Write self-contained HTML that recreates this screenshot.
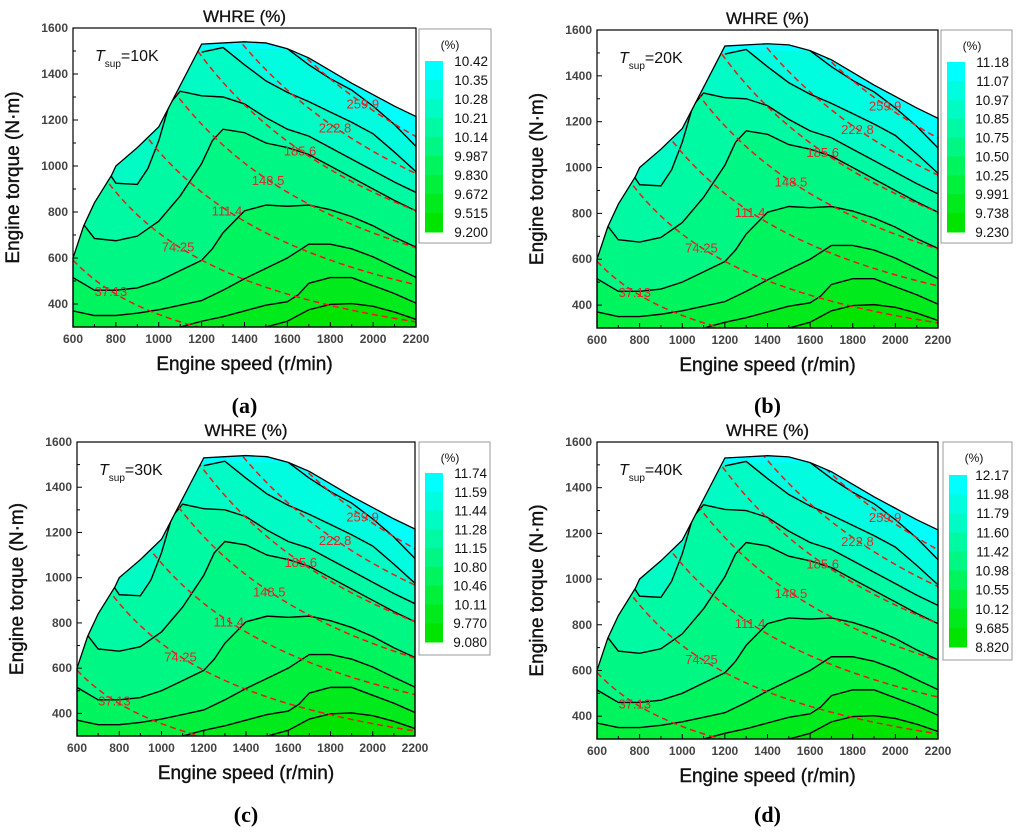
<!DOCTYPE html>
<html><head><meta charset="utf-8"><style>
body{margin:0;background:#fff;}
svg{display:block;font-family:"Liberation Sans",sans-serif;}
</style></head><body>
<svg id="fig" width="1024" height="837" viewBox="0 0 1024 837"></svg>
<script>
const powerLevels=[37.13,74.25,111.4,148.5,185.6,222.8,259.9];
const powerLabelRpm=[777,1090,1318,1510,1659,1822,1952];
const envRpm=[600,650,700,780,800,900,1000,1050,1100,1200,1300,1400,1500,1600,1700,1800,1900,2000,2100,2200];
const envTq=[600,740,840,960,1000,1080,1170,1260,1350,1530,1535,1540,1535,1510,1470,1415,1360,1310,1260,1215];
const cA_r=[1500,1600,1700,1800,1900,2000,2100,2200];
const cA_t=[300,325,375,398,402,390,365,333];
const cB_r=[1100,1200,1300,1400,1500,1600,1650,1700,1800,1900,2000,2100,2200];
const cB_t=[300,325,345,370,395,410,440,490,515,515,480,445,404];
const cC_r=[600,700,800,900,1000,1100,1200,1300,1400,1500,1600,1700,1800,1900,2000,2100,2200];
const cC_t=[370,350,350,360,375,395,415,460,510,555,600,660,660,640,605,560,516];
const cD_r=[600,700,800,900,1000,1100,1200,1250,1300,1400,1500,1600,1700,1800,1900,2000,2100,2200];
const cD_t=[515,460,460,470,500,545,590,640,710,805,830,825,830,810,780,740,690,647];
const cE_r=[650,700,800,900,1000,1100,1200,1250,1300,1400,1500,1600,1700,1800,1900,2000,2100,2200];
const cE_t=[745,685,675,695,760,870,1010,1110,1160,1145,1100,1080,1050,1000,950,900,850,805];
const cF_r=[775,800,900,950,1000,1050,1100,1200,1300,1400,1500,1600,1700,1800,1900,2000,2100,2200];
const cF_t=[960,925,920,990,1110,1270,1325,1305,1300,1270,1210,1160,1130,1080,1030,980,930,885];
const cG_r=[1200,1300,1400,1500,1600,1700,1800,1900,2000,2100,2200];
const cG_t=[1495,1515,1440,1370,1320,1280,1235,1190,1140,1060,975];
const cH_r=[1600,1700,1800,1900,2000,2100,2200];
const cH_t=[1510,1440,1380,1330,1260,1180,1085];
const contourR=[cA_r,cB_r,cC_r,cD_r,cE_r,cF_r,cG_r,cH_r];
const contourT=[cA_t,cB_t,cC_t,cD_t,cE_t,cF_t,cG_t,cH_t];
const bandColors=["#00e400","#00ea1c","#00f03c","#00f45e","#00f784","#00faa4","#00fcc4","#00fde0","#00ffff"];
const legendA=["10.42","10.35","10.28","10.21","10.14","9.987","9.830","9.672","9.515","9.200"];
const legendB=["11.18","11.07","10.97","10.85","10.75","10.50","10.25","9.991","9.738","9.230"];
const legendC=["11.74","11.59","11.44","11.28","11.15","10.80","10.46","10.11","9.770","9.080"];
const legendD=["12.17","11.98","11.79","11.60","11.42","10.98","10.55","10.12","9.685","8.820"];
const xTicks=[600,800,1000,1200,1400,1600,1800,2000,2200];
const yTicks=[400,600,800,1000,1200,1400,1600];

const panels=[
 {id:"a",T:"10K",x0:73,x1:416,yt:28,yb:327,leg:legendA,lx:419,ly:29,lw:72,lh:214,cb0:61,cb1:232,sub:"(a)",sy:413},
 {id:"b",T:"20K",x0:597,x1:938,yt:30,yb:328,leg:legendB,lx:941,ly:30,lw:71,lh:213,cb0:62,cb1:232,sub:"(b)",sy:413},
 {id:"c",T:"30K",x0:77,x1:415,yt:442,yb:736,leg:legendC,lx:419,ly:442,lw:71,lh:213,cb0:473,cb1:642,sub:"(c)",sy:822},
 {id:"d",T:"40K",x0:597,x1:938,yt:442,yb:739,leg:legendD,lx:943,ly:442,lw:69,lh:218,cb0:475,cb1:647,sub:"(d)",sy:822}
];
const NS="http://www.w3.org/2000/svg";
const svg=document.getElementById('fig');
function mk(tag,attrs,parent){const e=document.createElementNS(NS,tag);for(const k in attrs)e.setAttribute(k,attrs[k]);(parent||svg).appendChild(e);return e;}

panels.forEach(p=>{
 const sx=r=>p.x0+(r-600)/1600*(p.x1-p.x0);
 const sy=t=>p.yb-(t-300)/1300*(p.yb-p.yt);
 const g=mk('g',{});
 
 
 const defs=mk('defs',{},g);
 const cp=mk('clipPath',{id:'env'+p.id},defs);
 let ep=envRpm.map((r,i)=>sx(r)+','+sy(envTq[i])).join(' ')+' '+sx(2200)+','+sy(300)+' '+sx(600)+','+sy(300);
 mk('polygon',{points:ep},cp);
 const cg=mk('g',{'clip-path':'url(#env'+p.id+')'},g);
 
 
 mk('rect',{x:p.x0,y:p.yt,width:p.x1-p.x0,height:p.yb-p.yt,fill:bandColors[0]},cg);
 contourR.forEach((rs,k)=>{
  const ts=contourT[k];
  let pts=rs.map((r,i)=>sx(r)+','+sy(ts[i]));
  pts.push(sx(2250)+','+sy(ts[ts.length-1]),sx(2250)+','+sy(2000),sx(550)+','+sy(2000),sx(550)+','+sy(ts[0]));
  const poly=mk('polygon',{points:pts.join(' '),fill:bandColors[k+1]},cg);
  
  
 });
 contourR.forEach((rs,k)=>{
  const ts=contourT[k];
  const pl=mk('polyline',{points:rs.map((r,i)=>sx(r)+','+sy(ts[i])).join(' '),fill:'none',stroke:'#000','stroke-width':1.4},cg);
  
  
 });
 powerLevels.forEach((P,k)=>{
  let pts=[];for(let n=600;n<=2200;n+=20){pts.push(sx(n)+','+sy(9549*P/n));}
  const pl=mk('polyline',{points:pts.join(' '),fill:'none',stroke:'#f01818','stroke-width':1.5,'stroke-dasharray':'6,4'},cg);
  
  
 });
 mk('polygon',{points:ep,fill:'none',stroke:'#000','stroke-width':1.3},g);
 powerLevels.forEach((P,k)=>{
  const n=powerLabelRpm[k];
  const t=mk('text',{x:sx(n),y:sy(9549*P/n)+5,'text-anchor':'middle','font-size':13,fill:'#e02828'},g);
  t.textContent=String(P);
  
  
 });
 const fr=mk('rect',{x:p.x0,y:p.yt,width:p.x1-p.x0,height:p.yb-p.yt,fill:'none',stroke:'#000','stroke-width':1.2},g);
 
 
 xTicks.forEach(v=>{
  mk('line',{x1:sx(v),x2:sx(v),y1:p.yb,y2:p.yb-5,stroke:'#000'},g);
  if(v<2200)mk('line',{x1:sx(v+100),x2:sx(v+100),y1:p.yb,y2:p.yb-3,stroke:'#000'},g);
  const t=mk('text',{x:sx(v),y:p.yb+16,'text-anchor':'middle','font-size':12,'font-weight':'bold',fill:'#444'},g);
  t.textContent=v;
  
  
 });
 yTicks.forEach(v=>{
  mk('line',{x1:p.x0,x2:p.x0+5,y1:sy(v),y2:sy(v),stroke:'#000'},g);
  mk('line',{x1:p.x0,x2:p.x0+3,y1:sy(v-100),y2:sy(v-100),stroke:'#000'},g);
  const t=mk('text',{x:p.x0-5,y:sy(v)+4,'text-anchor':'end','font-size':12,'font-weight':'bold',fill:'#444'},g);
  t.textContent=v;
  
  
 });
 const cx=(p.x0+p.x1)/2;
 const ti=mk('text',{x:cx,y:p.yt-6,'text-anchor':'middle','font-size':17,fill:'#111',stroke:'#111','stroke-width':0.3},g);
 ti.textContent='WHRE (%)';
 
 
 const xt=mk('text',{x:cx,y:p.yb+43,'text-anchor':'middle','font-size':19,fill:'#111',stroke:'#111','stroke-width':0.4},g);
 xt.textContent='Engine speed (r/min)';
 
 
 const yc=(p.yt+p.yb)/2;
 const yx=p.x0-54;
 const yt=mk('text',{x:yx,y:yc,'text-anchor':'middle','font-size':19,fill:'#111',stroke:'#111','stroke-width':0.4,transform:'rotate(-90 '+yx+' '+yc+')'},g);
 yt.textContent='Engine torque (N\u00b7m)';
 
 
 const ts=mk('text',{x:p.x0+22,y:p.yt+33,'font-size':16,fill:'#111'},g);
 ts.innerHTML='<tspan font-style="italic">T</tspan><tspan font-size="10" dy="6">sup</tspan><tspan dy="-6">='+p.T+'</tspan>';
 
 
 const sl=mk('text',{x:cx,y:p.sy,'text-anchor':'middle','font-size':22,'font-weight':'bold','font-family':'Liberation Serif, serif',fill:'#000'},g);
 sl.textContent=p.sub;
 
 
 const lg=mk('g',{},g);
 
 
 mk('rect',{x:p.lx,y:p.ly,width:p.lw,height:p.lh,fill:'#fff',stroke:'#999','stroke-width':1},lg);
 const lt=mk('text',{x:p.lx+31,y:p.ly+20,'text-anchor':'middle','font-size':12,fill:'#111'},lg);
 lt.textContent='(%)';
 const nb=p.leg.length-1;const bh=(p.cb1-p.cb0)/nb;
 for(let i=0;i<nb;i++){
  const r=mk('rect',{x:p.lx+6,y:p.cb0+i*bh,width:18,height:bh+0.5,fill:bandColors[bandColors.length-1-i]},lg);
  
  
 }
 p.leg.forEach((v,i)=>{
  const t=mk('text',{x:p.lx+p.lw-3,y:p.cb0+i*bh+5,'text-anchor':'end','font-size':13.5,fill:'#111'},lg);
  t.textContent=v;
  
  
 });
});
</script>
</body></html>
